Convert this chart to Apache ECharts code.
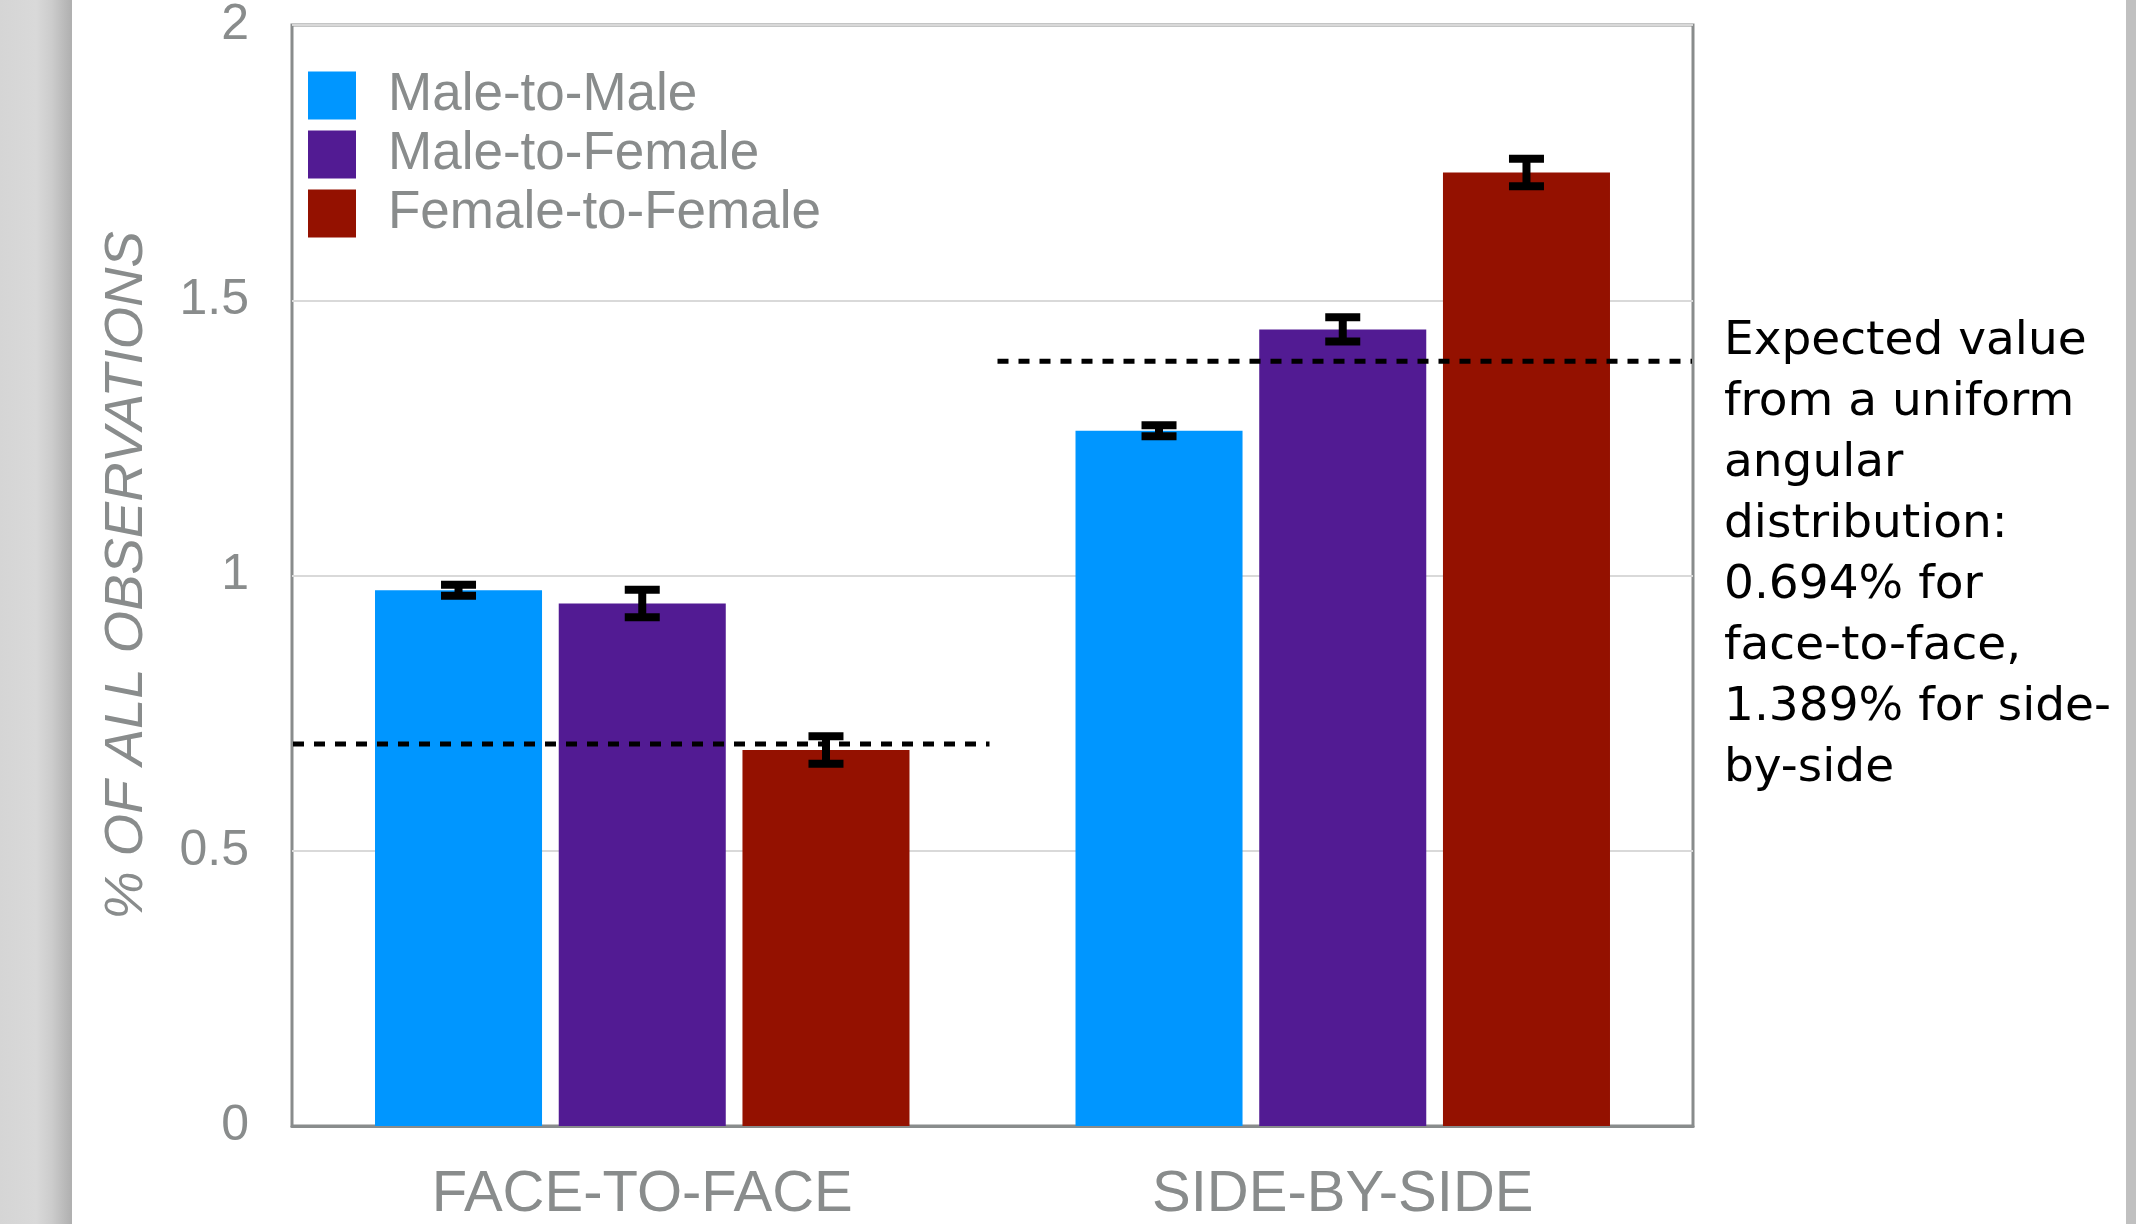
<!DOCTYPE html>
<html>
<head>
<meta charset="utf-8">
<title>Orientation of pairs</title>
<script src="https://cdn.jsdelivr.net/npm/echarts@6/dist/echarts.min.js"></script>
<style>
  html, body { margin: 0; padding: 0; background: #ffffff; }
  #chart { width: 2136px; height: 1224px; }
</style>
</head>
<body>
<div id="chart"></div>
<script>
// Pair orientation categories and the share of observations (%) per pairing type
const categories = ['FACE-TO-FACE', 'SIDE-BY-SIDE'];
const seriesNames = ['Male-to-Male', 'Male-to-Female', 'Female-to-Female'];
const maleMale = [0.973, 1.263];
const maleFemale = [0.949, 1.447];
const femaleFemale = [0.683, 1.732];
// Half-width of the error bars (same units)
const maleMaleErr = [0.010, 0.010];
const maleFemaleErr = [0.025, 0.022];
const femaleFemaleErr = [0.025, 0.025];
// Expected share under a uniform angular distribution
const expected = [0.694, 1.389];
const yTicks = { min: 0, max: 2, interval: 0.5 };
const yAxisTitle = '% OF ALL OBSERVATIONS';
const noteLines = [
  'Expected value',
  'from a uniform',
  'angular',
  'distribution:',
  '0.694% for',
  'face-to-face,',
  '1.389% for side-',
  'by-side'
];

const colors = ['#0096ff', '#521b93', '#941100'];
const GRAY = '#898c8c';
const CAT_GAP = 0.237;
const BAR_GAP = 0.10;

const values = [maleMale, maleFemale, femaleFemale];
const errors = [maleMaleErr, maleFemaleErr, femaleFemaleErr];

const errData = [];
values.forEach((vals, k) => {
  vals.forEach((v, c) => {
    errData.push([c, v - errors[k][c], v + errors[k][c], k]);
  });
});
const expData = expected.map((v, c) => [c, v]);

const chart = echarts.init(document.getElementById('chart'), null, { renderer: 'canvas' });

const barSeries = seriesNames.map((name, k) => ({
  name: name,
  type: 'bar',
  data: values[k],
  barGap: (BAR_GAP * 100) + '%',
  barCategoryGap: (CAT_GAP * 100) + '%',
  itemStyle: { color: colors[k] },
  emphasis: { disabled: true },
  z: 2
}));

const option = {
  animation: false,
  backgroundColor: '#ffffff',
  grid: {
    left: 292, right: 443, top: 23, bottom: 97,
    show: true, borderColor: GRAY, borderWidth: 3, backgroundColor: 'transparent'
  },
  legend: {
    data: seriesNames,
    orient: 'vertical',
    left: 303, top: 64,
    itemWidth: 48, itemHeight: 48, itemGap: 6,
    icon: 'rect',
    selectedMode: false,
    textStyle: {
      color: GRAY, fontSize: 53, fontFamily: 'Liberation Sans, Arial, sans-serif',
      lineHeight: 48, padding: [0, 0, 0, 27]
    }
  },
  xAxis: {
    type: 'category',
    data: categories,
    axisTick: { show: false },
    axisLine: { show: true, lineStyle: { color: GRAY, width: 3 } },
    axisLabel: {
      color: GRAY, fontSize: 58, margin: 40,
      fontFamily: 'Liberation Sans, Arial, sans-serif'
    },
    splitLine: { show: false }
  },
  yAxis: {
    type: 'value',
    min: yTicks.min, max: yTicks.max, interval: yTicks.interval,
    name: yAxisTitle,
    nameLocation: 'middle',
    nameRotate: 90,
    nameGap: 138,
    nameTextStyle: {
      color: GRAY, fontSize: 54.5, fontStyle: 'italic',
      fontFamily: 'Liberation Sans, Arial, sans-serif'
    },
    axisLine: { show: false },
    axisTick: { show: false },
    axisLabel: {
      color: GRAY, fontSize: 50, margin: 43,
      padding: [7, 0, 0, 0],
      fontFamily: 'Liberation Sans, Arial, sans-serif'
    },
    splitLine: { show: true, lineStyle: { color: '#d9d9d9', width: 2 } }
  },
  series: barSeries.concat([
    {
      name: 'expected',
      type: 'custom',
      data: expData,
      z: 4,
      silent: true,
      renderItem: function (params, api) {
        const c = api.value(0);
        const band = api.size([1, 0])[0];
        const p = api.coord([c, api.value(1)]);
        const insetL = c === 0 ? 1 : 5;
        const insetR = c === 0 ? 3 : 1;
        return {
          type: 'line',
          shape: { x1: p[0] - band / 2 + insetL, y1: p[1], x2: p[0] + band / 2 - insetR, y2: p[1] },
          style: { stroke: '#000000', lineWidth: 5, lineDash: [11, 10] }
        };
      }
    },
    {
      name: 'error',
      type: 'custom',
      data: errData,
      z: 5,
      silent: true,
      renderItem: function (params, api) {
        const c = api.value(0);
        const k = api.value(3);
        const band = api.size([1, 0])[0];
        const w = band * (1 - CAT_GAP) / (3 + 2 * BAR_GAP);
        const x = api.coord([c, 0])[0] + (k - 1) * w * (1 + BAR_GAP);
        const yLo = api.coord([c, api.value(1)])[1];
        const yHi = api.coord([c, api.value(2)])[1];
        const half = 17.5;
        const st = { stroke: '#000000', lineWidth: 8 };
        return {
          type: 'group',
          children: [
            { type: 'line', shape: { x1: x, y1: yLo, x2: x, y2: yHi }, style: st },
            { type: 'line', shape: { x1: x - half, y1: yHi, x2: x + half, y2: yHi }, style: st },
            { type: 'line', shape: { x1: x - half, y1: yLo, x2: x + half, y2: yLo }, style: st }
          ]
        };
      }
    }
  ]),
  graphic: [
    {
      type: 'rect', left: 0, top: 0, z: -10, silent: true,
      shape: { width: 72, height: 1224 },
      style: {
        fill: new echarts.graphic.LinearGradient(0, 0, 1, 0, [
          { offset: 0, color: '#d5d5d5' },
          { offset: 0.5, color: '#d9d9d9' },
          { offset: 0.72, color: '#cccccc' },
          { offset: 1, color: '#afafaf' }
        ])
      }
    },
    {
      type: 'rect', left: 2126, top: 0, z: -10, silent: true,
      shape: { width: 10, height: 1224 },
      style: { fill: '#c0c0c0' }
    },
    {
      type: 'text', left: 1724, top: 311, z: 10, silent: true,
      style: {
        text: noteLines.join('\n'),
        fill: '#000000',
        fontSize: 47,
        fontFamily: 'DejaVu Sans, Verdana, sans-serif',
        lineHeight: 61
      }
    }
  ]
};

chart.setOption(option);
</script>
</body>
</html>
